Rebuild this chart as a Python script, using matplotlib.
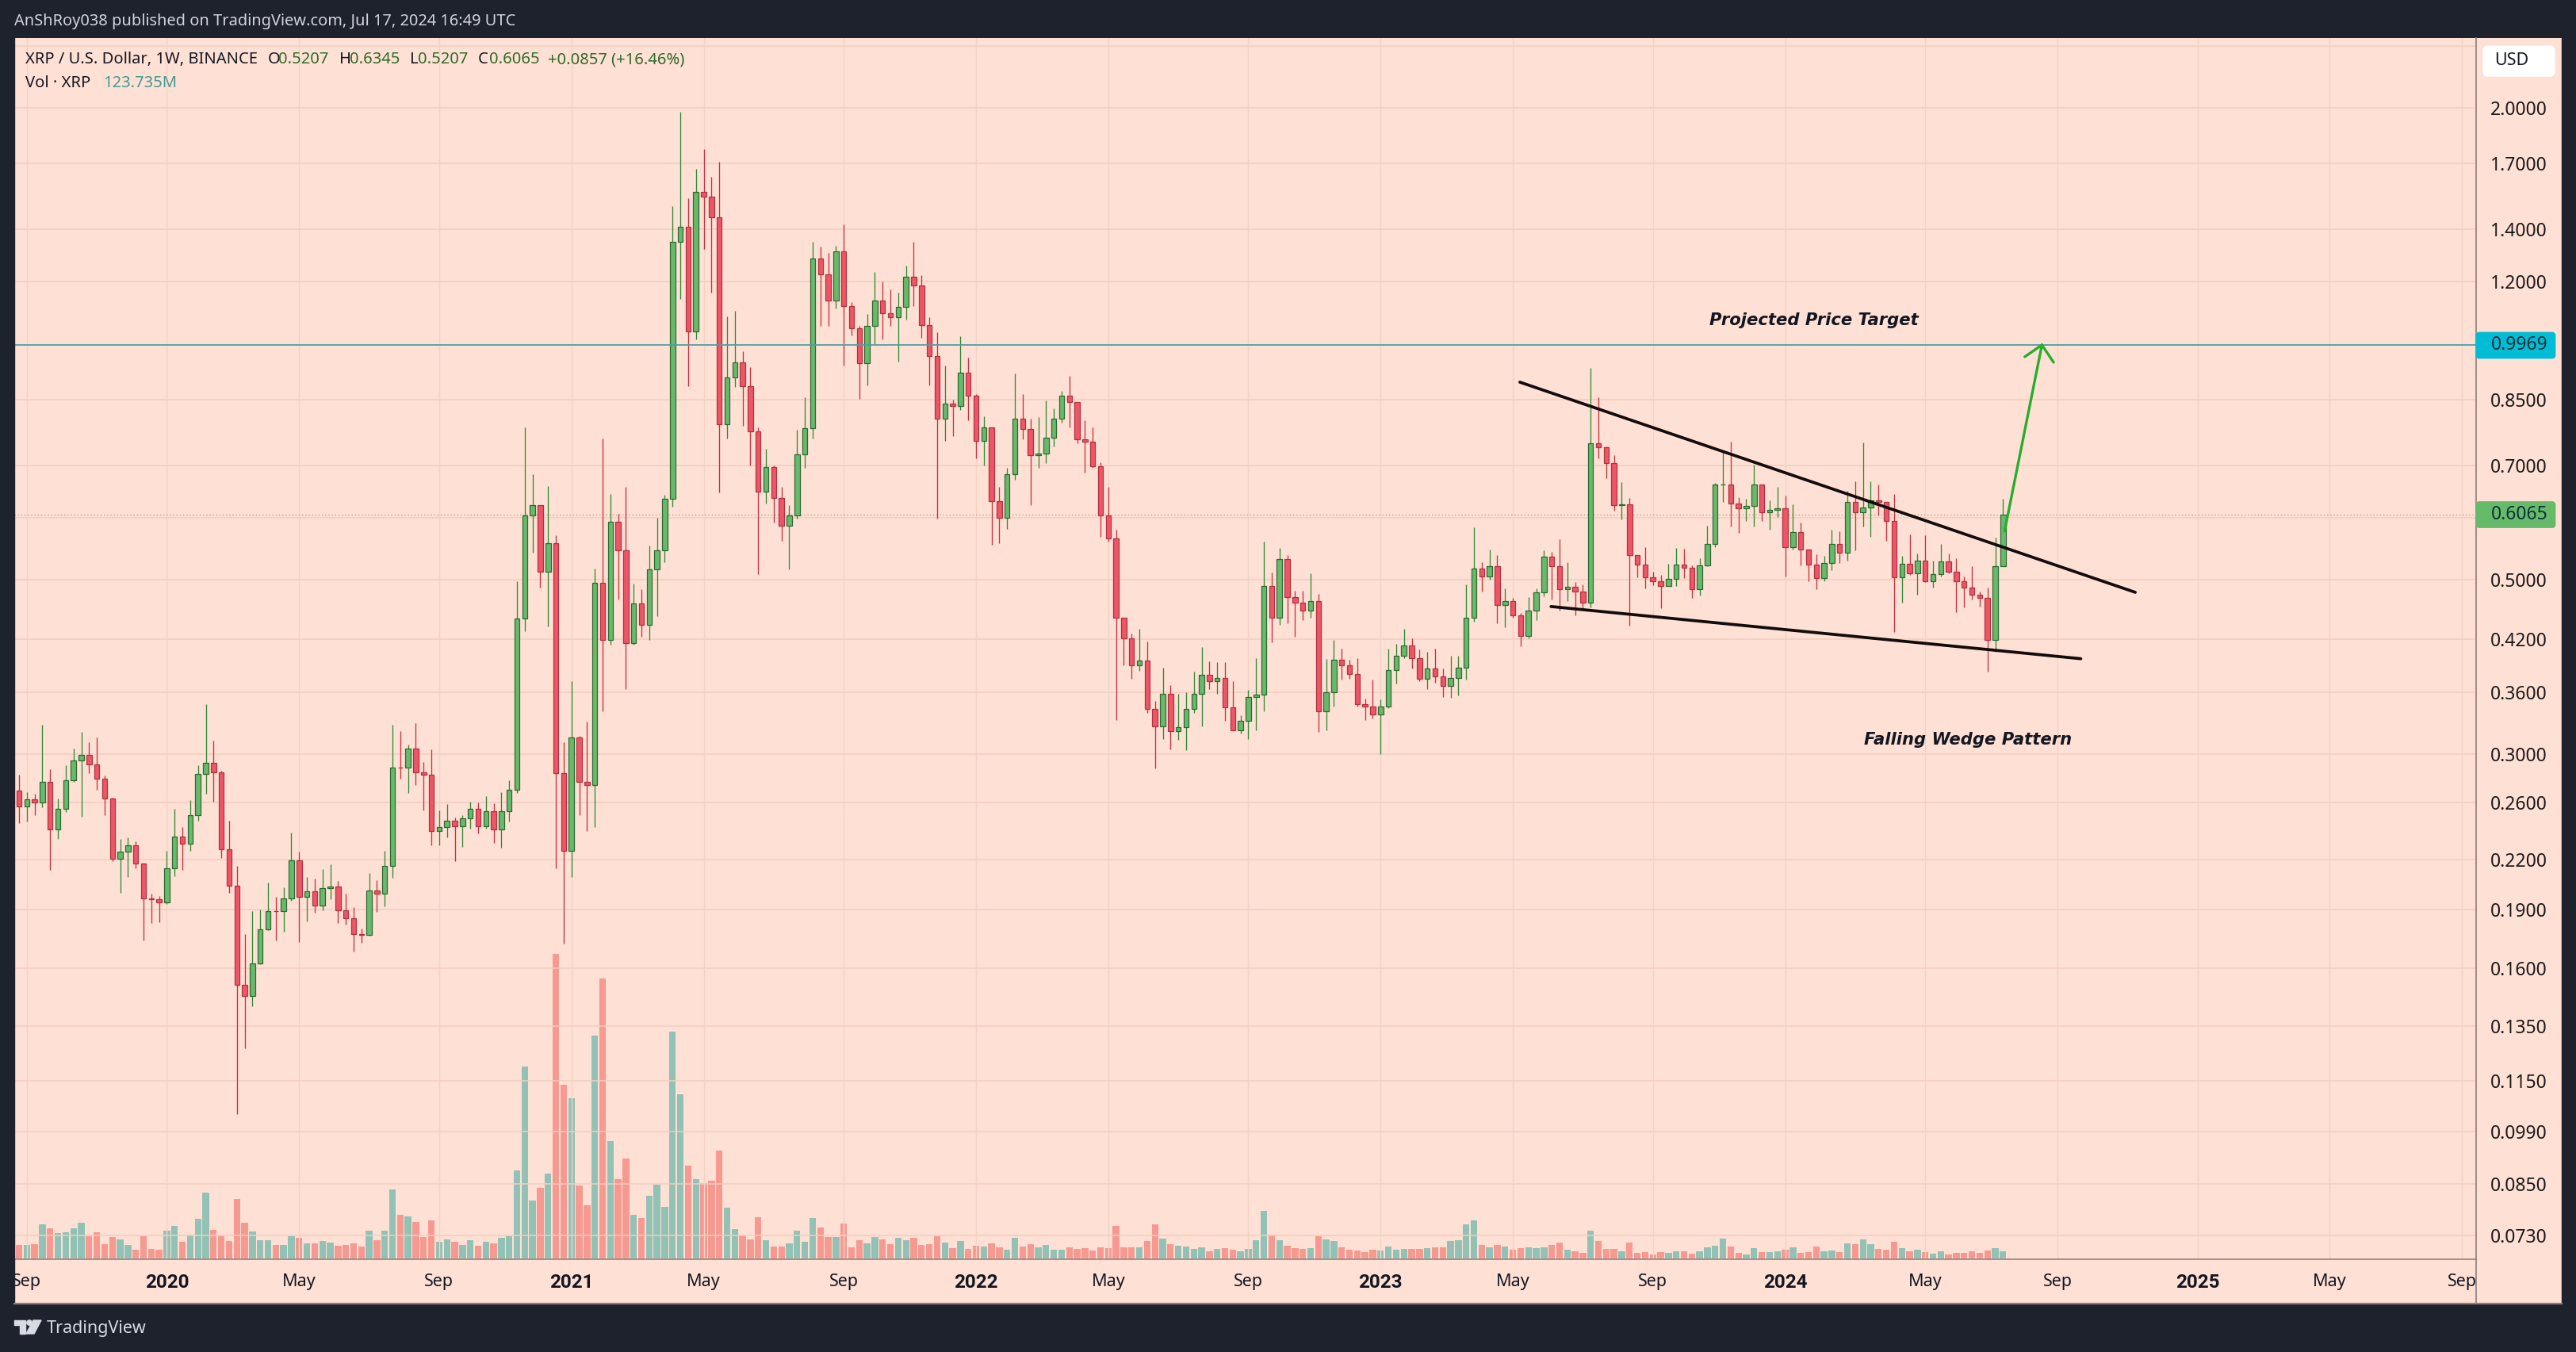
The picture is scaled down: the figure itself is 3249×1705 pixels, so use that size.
import matplotlib
matplotlib.use('Agg')
import matplotlib.pyplot as plt
from matplotlib.patches import Rectangle, FancyBboxPatch, Polygon, Circle

# XRP/USD weekly candles (one value per week)
opens = [
    .2697, .2573, .2629, .2603, .2765, .2404, .2554, .2780, .2946, .2995,
    .2910, .2790, .2634, .2205, .2252, .2295, .2175, .1966, .1961, .1943,
    .2145, .2355, .2304, .2507, .2830, .2926, .2840, .2270, .2037, .1524,
    .1476, .1624, .1792, .1892, .1890, .1962, .2197, .1971, .2007, .1925,
    .2025, .2034, .1897, .1853, .1767, .1766, .2011, .1993, .2160, .2883,
    .2880, .3050, .2845, .2823, .2396, .2421, .2466, .2428, .2484, .2554,
    .2425, .2535, .2404, .2535, .2702, .4470, .6050, .6235, .5126, .5566,
    .2834, .2256, .3150, .2764, .2739, .4963, .4194, .5928, .5450, .4153,
    .4663, .4386, .5164, .5450, .6351, 1.350, 1.410, 1.037, 1.563, 1.539,
    1.4515, .7900, .9068, .9470, .8832, .7736, .6476, .6966, .6365, .5861,
    .6047, .7237, .7812, 1.286, 1.2273, 1.1368, 1.3106, 1.1178, 1.0459, .9446,
    1.0548, 1.1362, 1.0946, 1.0824, 1.1156, 1.2179, 1.1864, 1.0574, .9648, .8021,
    .8386, .8341, .9200, .8588, .7525, .7822, .6297, .6000, .6817, .8033,
    .7785, .7216, .7255, .7588, .8033, .8594, .8424, .7556, .7508, .6979,
    .6047, .5656, .4473, .4212, .3889, .3948, .3427, .3255, .3584, .3207,
    .3248, .3428, .3584, .3783, .3719, .3752, .3444, .3214, .3308, .3548,
    .3574, .4916, .4478, .5319, .4760, .4679, .4572, .4704, .3402, .3596,
    .3958, .3891, .3798, .3472, .3448, .3372, .3448, .3841, .4004, .4128,
    .3973, .3745, .3860, .3771, .3666, .3752, .3864, .4481, .5176, .5053,
    .5208, .4645, .4704, .4504, .4248, .4572, .4817, .5354, .5208, .4867,
    .4903, .4832, .4679, .7473, .7382, .7049, .6236, .6247, .5384, .5234,
    .5045, .4978, .4912, .5019, .5238, .5184, .4873, .5225, .5556, .6611,
    .6616, .6262, .6166, .6221, .6611, .6096, .6148, .6171, .5513, .5757,
    .5468, .5238, .5027, .5258, .5557, .5418, .6281, .6096, .6192, .6311,
    .6281, .5940, .5035, .5246, .5105, .5295, .4988, .5085, .5283, .5125,
    .4977, .4885, .4789, .4747, .4194, .5207,
]
closes = [
    .2573, .2629, .2603, .2765, .2404, .2554, .2780, .2946, .2995, .2910,
    .2790, .2634, .2205, .2252, .2295, .2175, .1966, .1961, .1943, .2145,
    .2355, .2304, .2507, .2830, .2926, .2840, .2270, .2037, .1524, .1476,
    .1624, .1792, .1892, .1890, .1962, .2197, .1971, .2007, .1925, .2025,
    .2034, .1897, .1853, .1767, .1766, .2011, .1993, .2160, .2883, .2880,
    .3050, .2845, .2823, .2396, .2421, .2466, .2428, .2484, .2554, .2425,
    .2535, .2404, .2535, .2702, .4470, .6050, .6235, .5126, .5566, .2834,
    .2256, .3150, .2764, .2739, .4963, .4194, .5928, .5450, .4153, .4663,
    .4386, .5164, .5450, .6351, 1.350, 1.410, 1.037, 1.563, 1.539, 1.4515,
    .7900, .9068, .9470, .8832, .7736, .6476, .6966, .6365, .5861, .6047,
    .7237, .7812, 1.286, 1.2273, 1.1368, 1.3106, 1.1178, 1.0459, .9446, 1.0548,
    1.1362, 1.0946, 1.0824, 1.1156, 1.2179, 1.1864, 1.0574, .9648, .8021, .8386,
    .8341, .9200, .8588, .7525, .7822, .6297, .6000, .6817, .8033, .7785,
    .7216, .7255, .7588, .8033, .8594, .8424, .7556, .7508, .6979, .6047,
    .5656, .4473, .4212, .3889, .3948, .3427, .3255, .3584, .3207, .3248,
    .3428, .3584, .3783, .3719, .3752, .3444, .3214, .3308, .3548, .3574,
    .4916, .4478, .5319, .4760, .4679, .4572, .4704, .3402, .3596, .3958,
    .3891, .3798, .3472, .3448, .3372, .3448, .3841, .4004, .4128, .3973,
    .3745, .3860, .3771, .3666, .3752, .3864, .4481, .5176, .5053, .5208,
    .4645, .4704, .4504, .4248, .4572, .4817, .5354, .5208, .4867, .4903,
    .4832, .4679, .7473, .7382, .7049, .6236, .6247, .5384, .5234, .5045,
    .4978, .4912, .5019, .5238, .5184, .4873, .5225, .5556, .6611, .6616,
    .6262, .6166, .6221, .6611, .6096, .6148, .6171, .5513, .5757, .5468,
    .5238, .5027, .5258, .5557, .5418, .6281, .6096, .6192, .6311, .6281,
    .5940, .5035, .5246, .5105, .5295, .4988, .5085, .5283, .5125, .4977,
    .4885, .4789, .4747, .4194, .5207, .6065,
]
highs = [
    .2821, .2681, .2669, .3272, .2867, .2634, .2903, .3050, .3203, .3103,
    .3149, .2816, .2640, .2338, .2351, .2323, .2180, .1990, .1979, .2259,
    .2552, .2419, .2622, .2903, .3470, .3123, .2857, .2468, .2162, .1769,
    .1890, .1901, .2056, .1971, .2028, .2382, .2253, .2091, .2081, .2140,
    .2170, .2068, .1990, .1913, .1797, .2118, .2072, .2259, .3272, .3208,
    .3085, .3281, .2931, .3043, .2540, .2589, .2488, .2505, .2610, .2603,
    .2650, .2597, .2682, .2780, .4978, .7820, .6815, .6235, .6584, .5700,
    .3103, .3720, .3166, .3302, .5176, .7570, .6436, .6071, .6579, .4945,
    .4873, .5536, .6000, .6424, 1.498, 1.975, 1.533, 1.673, 1.770, 1.633,
    1.708, 1.083, 1.101, .978, .933, .7827, .7355, .7000, .6578, .6235,
    .7767, .8545, 1.350, 1.3318, 1.3054, 1.3322, 1.419, 1.1317, 1.0545, 1.0906,
    1.2361, 1.2000, 1.1723, 1.1624, 1.2573, 1.350, 1.2223, 1.0804, 1.0347, .9384,
    .8500, 1.0226, .9604, .8622, .8083, .7822, .6580, .6952, .9162, .8622,
    .8033, .8058, .8479, .8278, .8718, .9108, .8424, .8000, .7827, .7061,
    .6578, .5792, .4466, .4268, .4337, .4177, .3502, .3869, .3672, .3578,
    .3598, .3819, .4108, .3942, .3933, .3931, .3719, .3363, .3624, .3973,
    .5594, .5112, .5488, .5381, .4840, .4840, .5103, .4796, .3968, .4192,
    .4088, .3958, .3973, .3527, .3731, .3524, .4088, .4149, .4329, .4217,
    .4083, .4052, .4088, .3854, .4005, .4004, .4938, .5842, .5274, .5473,
    .5381, .4882, .4748, .4543, .4761, .4882, .5453, .5434, .5641, .5274,
    .4969, .4933, .9319, .8541, .7399, .7218, .6672, .6368, .5384, .5505,
    .5126, .5080, .5246, .5499, .5486, .5225, .5325, .5858, .6650, .7276,
    .7500, .6380, .6342, .7014, .6611, .6318, .6567, .6411, .6249, .5917,
    .5464, .5395, .5363, .5798, .5771, .6497, .6677, .7495, .6677, .6620,
    .6293, .6432, .5363, .5715, .5407, .5703, .5288, .5556, .5407, .5325,
    .5057, .5205, .4835, .4892, .5658, .6345,
]
lows = [
    .2447, .2462, .2510, .2564, .2134, .2338, .2533, .2765, .2494, .2835,
    .2704, .2510, .2189, .1997, .2091, .2144, .1734, .1826, .1832, .1934,
    .2095, .2134, .2259, .2468, .2673, .2606, .2210, .1997, .1043, .1264,
    .1431, .1618, .1789, .1734, .1782, .1948, .1727, .1835, .1884, .1895,
    .1958, .1828, .1817, .1681, .1724, .1761, .1887, .1920, .2086, .2794,
    .2677, .2739, .2540, .2297, .2297, .2348, .2193, .2287, .2410, .2379,
    .2408, .2313, .2280, .2459, .2676, .4300, .5416, .4886, .4366, .2146,
    .1718, .2093, .2508, .2393, .2424, .3398, .4135, .4727, .3634, .4135,
    .4232, .4194, .4498, .5272, .6204, 1.1422, .8838, 1.0144, 1.320, 1.1615,
    .647, .757, .8808, .7856, .6998, .5092, .6266, .5922, .5616, .5164,
    .5984, .695, .7577, 1.0534, 1.0534, 1.1094, .9384, 1.026, .8519, .8848,
    1.000, 1.0144, 1.0548, .9494, 1.0748, 1.1178, 1.0187, .8848, .5984, .7514,
    .762, .8244, .800, .714, .700, .5544, .5566, .5806, .6716, .7556,
    .6235, .695, .7054, .7404, .7937, .7827, .7466, .6853, .695, .5676,
    .5596, .3319, .3893, .3745, .3830, .3385, .2875, .3134, .3045, .3125,
    .3035, .3385, .3255, .3628, .3584, .3304, .3214, .3185, .3134, .3214,
    .3402, .4167, .4385, .4404, .4237, .4445, .4473, .3205, .3214, .3449,
    .3731, .3745, .3448, .3317, .3334, .2997, .3431, .3691, .3973, .3860,
    .3719, .3628, .3696, .3548, .3536, .3563, .3731, .4428, .4829, .5009,
    .4404, .4356, .4478, .4113, .4209, .4445, .4771, .4726, .4572, .4704,
    .4504, .4590, .4617, .7139, .6749, .6124, .5973, .4373, .5036, .4882,
    .4925, .4608, .4911, .4912, .5027, .4744, .4778, .5205, .5505, .6293,
    .5850, .5745, .5945, .5846, .5944, .5802, .6013, .5054, .5468, .5225,
    .4977, .4873, .4977, .5152, .5258, .5299, .5451, .5846, .5677, .6039,
    .5608, .4293, .4676, .5074, .4784, .4970, .4885, .5047, .5105, .4553,
    .4616, .4719, .4625, .3824, .4052, .5207,
]
# weekly volume in millions of XRP
volumes = [
    213, 213, 225, 526, 474, 394, 414, 466, 550, 353,
    406, 225, 333, 297, 213, 141, 353, 153, 141, 430,
    502, 261, 370, 611, 1004, 442, 353, 273, 908, 550,
    418, 285, 285, 213, 213, 345, 321, 237, 237, 273,
    249, 201, 213, 237, 189, 430, 285, 430, 1052, 671,
    647, 562, 333, 586, 261, 297, 261, 213, 285, 201,
    261, 237, 321, 345, 1342, 2920, 884, 1077, 1293, 4616,
    2643, 2434, 1113, 815, 3382, 4246, 1784, 1209, 1522, 671,
    623, 956, 1125, 791, 3443, 2495, 1414, 1209, 1149, 1185,
    1643, 779, 454, 358, 297, 635, 285, 189, 189, 237,
    430, 261, 623, 478, 333, 333, 538, 177, 285, 237,
    340, 304, 232, 328, 292, 328, 216, 232, 352, 256,
    172, 280, 160, 204, 196, 244, 184, 148, 328, 196,
    232, 184, 220, 148, 148, 184, 160, 172, 136, 184,
    172, 508, 184, 184, 184, 280, 532, 316, 232, 208,
    196, 160, 184, 124, 160, 172, 148, 124, 160, 292,
    736, 376, 292, 208, 172, 160, 172, 352, 304, 280,
    184, 148, 136, 112, 148, 136, 196, 148, 160, 160,
    160, 172, 184, 184, 280, 292, 532, 592, 220, 184,
    220, 196, 148, 172, 184, 172, 184, 220, 256, 148,
    124, 100, 436, 280, 160, 160, 124, 256, 100, 112,
    76, 112, 100, 124, 124, 88, 124, 184, 208, 316,
    196, 100, 76, 172, 112, 112, 124, 148, 184, 100,
    112, 196, 124, 136, 112, 244, 232, 304, 232, 160,
    148, 268, 172, 124, 148, 112, 88, 124, 76, 100,
    100, 124, 100, 136, 172, 123.735,
]

# axis ticks
price_ticks = [2.4, 2.0, 1.7, 1.4, 1.2, 0.85, 0.7, 0.6, 0.5, 0.42, 0.36, 0.30, 0.26,
               0.22, 0.19, 0.16, 0.135, 0.115, 0.099, 0.085, 0.073]
price_labels = ['', '2.0000', '1.7000', '1.4000', '1.2000', '0.8500', '0.7000', '', '0.5000',
                '0.4200', '0.3600', '0.3000', '0.2600', '0.2200', '0.1900', '0.1600',
                '0.1350', '0.1150', '0.0990', '0.0850', '0.0730']
date_bars = [1, 19, 36, 54, 71, 88, 106, 123, 140, 158, 175, 192, 210, 227, 245, 262, 280, 297, 314]
date_labels = ['Sep', '2020', 'May', 'Sep', '2021', 'May', 'Sep', '2022', 'May', 'Sep', '2023',
               'May', 'Sep', '2024', 'May', 'Sep', '2025', 'May', 'Sep']

# drawings on the chart: (bar, price)
target_price = 0.9969
last_price = 0.6065
upper_bars, upper_prices = [192.9, 272.0], [0.8938, 0.4823]
lower_bars, lower_prices = [196.9, 265.0], [0.4626, 0.3969]
arrow_bars, arrow_prices = [255.2, 260.0], [0.5771, 0.9969]
head_bars, head_prices = [257.8, 260.0, 261.5], [0.963, 0.9969, 0.9474]

# layout in pixels of the target
W, H = 3249, 1705
PANE_L, PANE_R, PANE_T, PANE_B = 18, 3231, 48, 1644
CHART_R, CHART_B = 3123, 1588
BAR0_PX, BAR_PX = 24.0, 9.813
PRICE_TOP, PRICE_BOTTOM = 2.454, 0.0681
VOL_PER_PX = 12.0

DARK = '#1e222d'
BG = '#ffe0d4'
GRID_H = '#f3cdc0'
GRID_V = '#f4d2c6'
FONT = 'Noto Sans'
BOLD_FONT = 'Roboto'

plt.rcParams['font.family'] = [FONT, 'DejaVu Sans']


def px_rect(l, t, r, b):
    return [l / W, 1 - b / H, (r - l) / W, (b - t) / H]


fig = plt.figure(figsize=(W / 100, H / 100), dpi=100, facecolor=DARK)

# pane background
pane = fig.add_axes(px_rect(PANE_L, PANE_T, PANE_R, PANE_B), facecolor=BG)
pane.set_xticks([])
pane.set_yticks([])
for s in pane.spines.values():
    s.set_visible(False)

# volume pane shares the pixel box of the price pane
vol = fig.add_axes(px_rect(PANE_L, PANE_T, CHART_R, CHART_B), facecolor='none')
ax = fig.add_axes(px_rect(PANE_L, PANE_T, CHART_R, CHART_B), facecolor='none')
xlim = ((PANE_L - BAR0_PX) / BAR_PX, (CHART_R - BAR0_PX) / BAR_PX)
bars = list(range(len(closes)))
up = [c >= o for o, c in zip(opens, closes)]

# volume
vol_colors = ['#26a69a' if u else '#ef5350' for u in up]
vol.bar(bars, volumes, width=0.85, color=vol_colors, alpha=0.5, linewidth=0)
vol.set_xlim(xlim)
vol.set_ylim(0, (CHART_B - PANE_T) * VOL_PER_PX)
vol.axis('off')

# price
ax.set_yscale('log')
ax.set_xlim(xlim)
ax.set_ylim(PRICE_BOTTOM, PRICE_TOP)
ax.set_yticks(price_ticks)
ax.set_yticklabels(price_labels)
ax.minorticks_off()
ax.yaxis.tick_right()
ax.set_xticks(date_bars)
ax.set_xticklabels(date_labels)
ax.tick_params(axis='y', length=0, pad=13, labelsize=16.5, labelcolor='#1a1a1a')
ax.tick_params(axis='x', length=0, pad=13, labelsize=15.5, labelcolor='#131722')
for lbl in ax.get_xticklabels():
    if lbl.get_text().startswith('20'):
        lbl.set_family(BOLD_FONT)
        lbl.set_fontweight('bold')
        lbl.set_fontsize(17.5)
ax.grid(True, axis='y', color=GRID_H, lw=1.1, zorder=0)
ax.grid(True, axis='x', color=GRID_V, lw=1.0, zorder=0)
ax.set_axisbelow(True)
for name, s in ax.spines.items():
    s.set_visible(name == 'bottom')
ax.spines['bottom'].set_color('#a58f8a')
ax.spines['bottom'].set_linewidth(1.4)

# wicks + bodies
wick_colors = ['#2f8a35' if u else '#c9303e' for u in up]
ax.vlines(bars, lows, highs, colors=wick_colors, lw=0.95, zorder=3)
tops = [max(o, c) for o, c in zip(opens, closes)]
bots = [min(o, c) for o, c in zip(opens, closes)]
ax.bar(bars, [t - b for t, b in zip(tops, bots)], bottom=bots, width=0.66,
       color=['#69b86d' if u else '#ec5767' for u in up],
       edgecolor=['#2a6b30' if u else '#b23040' for u in up], linewidth=0.9, zorder=4)

# target + last price lines
ax.axhline(target_price, color='#4f9ea6', lw=1.3, zorder=5)
ax.axhline(last_price, color='#b7a78c', lw=1.0, ls=(0, (1, 2)), zorder=2)

# pattern drawings
ax.plot(upper_bars, upper_prices, color='#120c0c', lw=2.7, solid_capstyle='round', zorder=6)
ax.plot(lower_bars, lower_prices, color='#120c0c', lw=2.7, solid_capstyle='round', zorder=6)
ax.plot(arrow_bars, arrow_prices, color='#27ae2c', lw=2.4, solid_capstyle='round', zorder=6)
ax.plot(head_bars, head_prices, color='#27ae2c', lw=2.4, solid_capstyle='round',
        solid_joinstyle='miter', zorder=6)
ax.text(230.7, 1.072, 'Projected Price Target', ha='center', va='center', style='italic',
        weight='bold', family='DejaVu Sans', fontsize=15.2, color='#131722', zorder=7)
ax.text(250.5, 0.3128, 'Falling Wedge Pattern', ha='center', va='center', style='italic',
        weight='bold', family='DejaVu Sans', fontsize=15.2, color='#131722', zorder=7)

# overlay in target pixels for the frame and legend
px = fig.add_axes([0, 0, 1, 1], facecolor='none')
px.set_xlim(0, W)
px.set_ylim(H, 0)
px.axis('off')
px.add_patch(Rectangle((0, 0), PANE_L, H, color=DARK, zorder=1))
px.add_patch(Rectangle((PANE_R, 0), W - PANE_R, H, color=DARK, zorder=1))
px.plot([CHART_R, CHART_R], [PANE_T, PANE_B], color='#8d7f7c', lw=1.2, zorder=2)
px.plot([PANE_L, PANE_R], [PANE_B, PANE_B], color='#8d7f7c', lw=1.6, zorder=2)


def price_px(price):
    return H - ax.transData.transform((0, price))[1]


def price_box(price, color):
    y = price_px(price)
    px.add_patch(FancyBboxPatch((CHART_R + 1, y - 15), 98, 31, boxstyle='round,pad=0,rounding_size=3',
                                facecolor=color, edgecolor=color, lw=2, zorder=3))
    px.text(3178, y, f'{price:.4f}', ha='center', va='center', fontsize=16.5, color='#10303a', zorder=4)


px.add_patch(FancyBboxPatch((3132, 58), 90, 38, boxstyle='round,pad=0,rounding_size=6',
                            facecolor='white', edgecolor='white', zorder=3))
px.text(3168, 77, 'USD', ha='center', va='center', fontsize=15.5, color='#131722', zorder=4)
price_box(target_price, '#00bcd4')
price_box(last_price, '#66bb6a')

# header and legend
px.text(18, 27, 'AnShRoy038 published on TradingView.com, Jul 17, 2024 16:49 UTC', va='center',
        fontsize=14.4, color='#d1d4dc')
LEGEND_DARK = '#131722'
LEGEND_GREEN = '#2f6b2a'
legend_y = 75
px.text(32, legend_y, 'XRP / U.S. Dollar, 1W, BINANCE', va='center', fontsize=14.5, color=LEGEND_DARK)
for x, s, c in [(338, 'O', LEGEND_DARK), (351, '0.5207', LEGEND_GREEN),
                (428, 'H', LEGEND_DARK), (441, '0.6345', LEGEND_GREEN),
                (517, 'L', LEGEND_DARK), (527, '0.5207', LEGEND_GREEN),
                (603, 'C', LEGEND_DARK), (617, '0.6065', LEGEND_GREEN),
                (691, '+0.0857 (+16.46%)', LEGEND_GREEN)]:
    px.text(x, legend_y, s, va='center', fontsize=14.5, color=c)
px.text(32, 105, 'Vol · XRP', va='center', fontsize=14.5, color=LEGEND_DARK)
px.text(130, 105, '123.735M', va='center', fontsize=14.5, color='#3f9d93')

# footer logo
LOGO = '#d8dbe2'
px.add_patch(Polygon([(18, 1665), (32, 1665), (32, 1682), (25, 1682), (25, 1671), (18, 1671)], color=LOGO))
px.add_patch(Circle((37, 1668), 3.2, color=LOGO))
px.add_patch(Polygon([(42, 1665), (52, 1665), (43, 1682), (33, 1682)], color=LOGO))
px.text(59, 1675, 'TradingView', va='center', fontsize=15.5, color=LOGO)

fig.savefig('out.png', dpi=100, facecolor=DARK)
